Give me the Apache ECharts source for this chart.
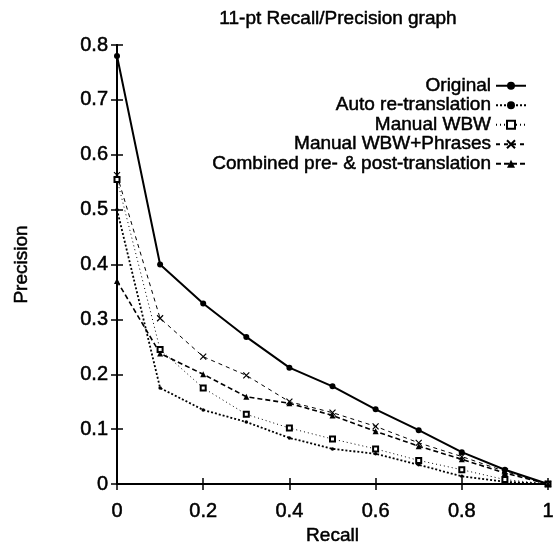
<!DOCTYPE html>
<html><head><meta charset="utf-8">
<script src="https://cdn.jsdelivr.net/npm/echarts@6/dist/echarts.min.js"></script>
<style>html,body{margin:0;padding:0;background:#fff}#c{width:554px;height:544px}</style>
</head><body><div id="c"></div>
<script>
const recall = [0, 0.1, 0.2, 0.3, 0.4, 0.5, 0.6, 0.7, 0.8, 0.9, 1.0];
const original = [0.78, 0.40, 0.329, 0.268, 0.212, 0.178, 0.136, 0.098, 0.058, 0.026, 0];
const autoRetrans = [0.50, 0.175, 0.135, 0.113, 0.084, 0.064, 0.055, 0.035, 0.014, 0.004, 0];
const manualWBW = [0.555, 0.245, 0.175, 0.127, 0.102, 0.082, 0.064, 0.043, 0.026, 0.008, 0];
const manualWBWPhrases = [0.563, 0.302, 0.232, 0.198, 0.150, 0.130, 0.105, 0.075, 0.050, 0.023, 0];
const combined = [0.37, 0.238, 0.20, 0.159, 0.147, 0.125, 0.096, 0.069, 0.045, 0.020, 0];
const xTicks = [0, 0.2, 0.4, 0.6, 0.8, 1];
const yTicks = [0, 0.1, 0.2, 0.3, 0.4, 0.5, 0.6, 0.7, 0.8];

const FONT = "'Liberation Sans', Arial, sans-serif";
const THICK = { textBorderColor: '#000', textBorderWidth: 0.5 };
const pair = arr => recall.map((r, i) => [r, arr[i]]);
const xPath = 'path://M0,0L10,10M10,0L0,10';

function ser(name, data, symbol, size, type, width) {
  return {
    name, type: 'line', data: pair(data), symbol, symbolSize: size,
    showAllSymbol: true, animation: false,
    lineStyle: { color: '#000', width: width, type: type },
    itemStyle: { color: '#000', borderColor: '#000', borderWidth: (symbol === 'emptyRect' || symbol === xPath) ? 1.2 : 0 }
  };
}

const chart = echarts.init(document.getElementById('c'), null, { renderer: 'canvas' });
const axisCommon = {
  min: 0, axisLine: { show: true, lineStyle: { color: '#000', width: 2 } },
  axisTick: { show: true, inside: true, length: 6, lineStyle: { color: '#000', width: 1.5 } },
  splitLine: { show: false }
};
chart.setOption({
  backgroundColor: '#fff',
  animation: false,
  title: { text: '11-pt Recall/Precision graph', top: 4, left: 333, textAlign: 'center',
    textStyle: Object.assign({ fontFamily: FONT, fontSize: 19, fontWeight: 'normal', color: '#000' }, THICK) },
  grid: { left: 117, right: 6, top: 45, bottom: 60, outerBoundsMode: 'none', containLabel: false },
  legend: {
    orient: 'vertical', right: 22, top: 71, align: 'right', itemGap: 0, itemWidth: 30, itemHeight: 10,
    textStyle: Object.assign({ fontFamily: FONT, fontSize: 19, color: '#000' }, THICK),
    data: ['Original', 'Auto re-translation', 'Manual WBW', 'Manual WBW+Phrases', 'Combined pre- & post-translation']
  },
  xAxis: [
    Object.assign({}, axisCommon, { type: 'value', max: 1, interval: 0.2, position: 'bottom',
      name: 'Recall', nameLocation: 'middle', nameGap: 41,
      nameTextStyle: Object.assign({ fontFamily: FONT, fontSize: 19, color: '#000' }, THICK),
      axisLabel: Object.assign({ fontFamily: FONT, fontSize: 20, color: '#000', margin: 17,
        formatter: v => xTicks.indexOf(Math.round(v * 10) / 10) >= 0 ? String(Math.round(v * 10) / 10) : '' }, THICK) }),
    Object.assign({}, axisCommon, { type: 'value', max: 1, interval: 0.2, position: 'top', axisLabel: { show: false } })
  ],
  yAxis: [
    Object.assign({}, axisCommon, { type: 'value', max: 0.8, interval: 0.1, position: 'left',
      name: 'Precision', nameLocation: 'middle', nameGap: 86,
      nameTextStyle: Object.assign({ fontFamily: FONT, fontSize: 19, color: '#000' }, THICK),
      axisLabel: Object.assign({ fontFamily: FONT, fontSize: 20, color: '#000', margin: 9,
        formatter: v => yTicks.indexOf(Math.round(v * 10) / 10) >= 0 ? String(Math.round(v * 10) / 10) : '' }, THICK) }),
    Object.assign({}, axisCommon, { type: 'value', max: 0.8, interval: 0.1, position: 'right', axisLabel: { show: false } })
  ],
  series: [
    ser('Original', original, 'circle', 6, 'solid', 2),
    ser('Auto re-translation', autoRetrans, 'circle', 3.5, [2, 2], 1.8),
    ser('Manual WBW', manualWBW, 'emptyRect', 5, [1, 3], 1),
    ser('Manual WBW+Phrases', manualWBWPhrases, xPath, 6, [4, 4], 1),
    ser('Combined pre- & post-translation', combined, 'triangle', 6, [5, 3], 1.6)
  ]
});
</script></body></html>
